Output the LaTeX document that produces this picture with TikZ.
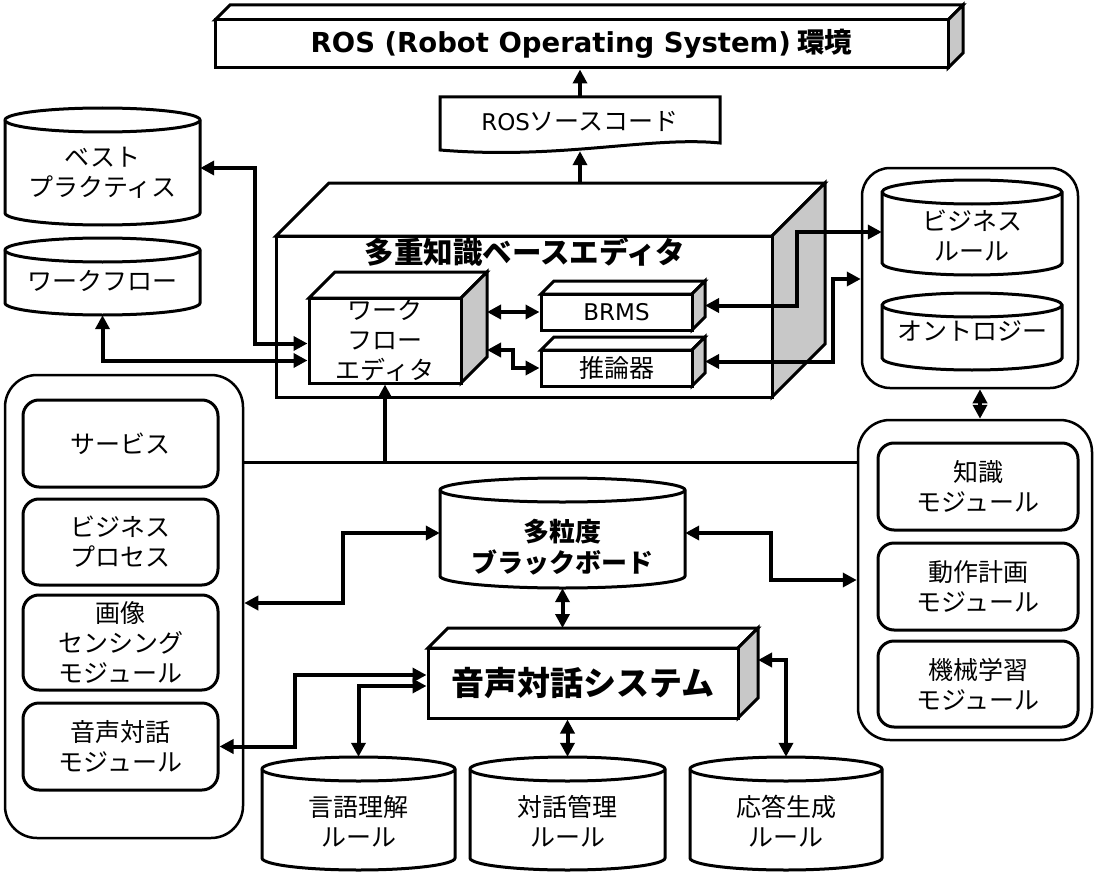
\documentclass[tikz,border=0pt]{standalone}
\usepackage{fontspec}
\setmainfont{Noto Sans CJK JP}
\newfontfamily\latin{DejaVu Sans}
\usepackage{tikz}
\usetikzlibrary{arrows.meta,fit,positioning}
\definecolor{sidegray}{RGB}{200,200,200}

% solid box: [text style] name, left, top, right, bottom, depth, text
\newcommand{\solidbox}[8][]{%
  \filldraw[box] (#3,#4) -- ++(#7,#7) -- (#5+#7,#4+#7) -- (#5,#4) -- cycle;
  \filldraw[box,fill=sidegray] (#5,#4) -- (#5+#7,#4+#7) -- (#5+#7,#6+#7) -- (#5,#6) -- cycle;
  \node[box,fit={(#3,#4) (#5,#6)}] (#2) {};
  \node[txt,#1] (#2-txt) at (#2.center) {#8};
  \coordinate (#2-side) at (#5+#7,{(#4+#6)/2+#7/2});
  \coordinate (#2-top) at ({(#3+#5)/2+#7},#4+#7);
}
% data store: [text style] name, left, top, right, bottom, text shift, text
\newcommand{\dbstore}[8][]{%
  \pgfmathsetmacro\cw{(#5-#3)/2}
  \filldraw[box] (#3,#4-12) -- (#3,#6+12)
    arc[start angle=180,end angle=360,x radius=\cw pt,y radius=12pt]
    -- (#5,#4-12) arc[start angle=0,end angle=180,x radius=\cw pt,y radius=12pt] -- cycle;
  \draw[box] (#3,#4-12) arc[start angle=180,end angle=360,x radius=\cw pt,y radius=12pt];
  \node[inner sep=0pt,fit={(#3,#4) (#5,#6)}] (#2) {};
  \node[txt,#1] (#2-txt) at ([yshift=#7pt]#2.center) {#8};
}
% rounded module: name, left, top, right, bottom, text
\newcommand{\modbox}[6]{%
  \node[module,fit={(#2,#3) (#4,#5)}] (#1) {};
  \node[txt] (#1-txt) at (#1.center) {#6};
}

\begin{document}
\begin{tikzpicture}[x=1pt,y=1pt,>={Triangle[length=14pt,width=14pt]},
  txt/.style={align=center,inner sep=0pt,font=\fontsize{25}{30}\selectfont},
  box/.style={draw,line width=3pt,line join=miter,fill=white,inner sep=0pt},
  group/.style={draw,line width=2.5pt,rounded corners=32pt,inner sep=0pt},
  module/.style={box,rounded corners=16pt},
  link/.style={<->,line width=4pt},
  heading/.style={font=\fontsize{29.5}{34}\selectfont\bfseries}]

    \useasboundingbox (0,0) rectangle (1095,-872);

    % Containers
    \node[group, fit={(5,-375) (243,-838)}] (lgrp) {};
    \node[group, rounded corners=28pt, fit={(862,-168) (1078,-388)}] (rgrp) {};
    \node[group, fit={(858,-420) (1092,-740)}] (mgrp) {};

    % Modules
    \modbox{svc}{23}{-400}{218}{-487}{サービス}
    \modbox{bproc}{23}{-499}{218}{-585}{ビジネス\\プロセス}
    \modbox{img}{23}{-595}{218}{-690}{画像\\センシング\\モジュール}
    \modbox{vmod}{23}{-703}{218}{-790}{音声対話\\モジュール}
    \modbox{know}{878}{-443}{1078}{-530}{知識\\モジュール}
    \modbox{motion}{878}{-543}{1078}{-630}{動作計画\\モジュール}
    \modbox{ml}{878}{-641}{1078}{-727}{機械学習\\モジュール}

    % Stores
    \dbstore{bp}{5}{-108}{200}{-225}{-6}{ベスト\\プラクティス}
    \dbstore{wf}{5}{-238}{200}{-315}{-4}{ワークフロー}
    \dbstore{brule}{882}{-180}{1062}{-275}{-8}{ビジネス\\ルール}
    \dbstore{onto}{882}{-293}{1062}{-370}{0}{オントロジー}
    \dbstore[font=\fontsize{26}{31}\selectfont\bfseries]{bb}{440}{-478}{685}{-588}{-14}{多粒度\\ブラックボード}
    \dbstore{nlu}{262}{-757}{455}{-870}{-8}{言語理解\\ルール}
    \dbstore{dm}{470}{-757}{665}{-870}{-8}{対話管理\\ルール}
    \dbstore{rg}{690}{-757}{882}{-870}{-8}{応答生成\\ルール}

    % Boxes
    \solidbox[font=\fontsize{27.5}{32}\selectfont\bfseries]{ros}{215}{-20}{948}{-68}{15}{{\latin ROS (Robot Operating System)} 環境}
    \filldraw[box] (440,-97) -- (720,-97) -- (720,-143) .. controls (650,-136) and (560,-160) .. (440,-150) -- cycle;
    \node[inner sep=0pt, fit={(440,-97) (720,-146)}] (src) {};
    \node[txt] (src-txt) at (src.center) {{\latin\fontsize{23}{28}\selectfont ROS}ソースコード};
    \solidbox{kbe}{276}{-236}{772}{-397}{53}{}
    \node[heading] (kbe-title) at (525,-252) {多重知識ベースエディタ};
    \solidbox{wfed}{309}{-298}{461}{-383}{26}{ワーク\\フロー\\エディタ}
    \solidbox[font=\latin\fontsize{23}{28}\selectfont]{brms}{541}{-294}{692}{-330}{13}{BRMS}
    \solidbox{inf}{541}{-350}{692}{-386}{13}{推論器}
    \solidbox[font=\fontsize{33}{38}\selectfont\bfseries]{vds}{428}{-648}{738}{-718}{20}{音声対話システム}

    % Connectors
    \draw[link,->] (src.north) -- (src.north |- ros.south);
    \draw[link,->] (src.south |- kbe-top) -- ([yshift=-5pt]src.south);

    \coordinate (bus) at (385,-462);
    \draw[line width=3pt] (lgrp.east |- bus) -- (mgrp.west |- bus);
    \draw[link,->] (bus) -- (wfed.south);

    \draw[link] (bp.east |- 0,-168) -- ++(55,0) |- ([yshift=-3pt]wfed.west);
    \draw[link] (wf.south) |- ([yshift=-20pt]wfed.west);
    \draw[link] (wfed-side |- brms.west) -- (brms.west);
    \draw[link] (wfed-side |- 0,-350) -- ++(26,0) |- (inf.west);
    \draw[link] (brms-side) -- ++(92,0) |- (brule.west |- 0,-232);
    \draw[link] (inf-side) -- ++(128,0) |- (rgrp.west |- 0,-279);
    \draw[link] (rgrp.south -| 980,0) -- (mgrp.north -| 980,0);

    \draw[link] (bb.west) -- ++(-97,0) |- (lgrp.east |- 0,-603);
    \draw[link] (bb.east) -- ++(86,0) |- (mgrp.west |- 0,-580);
    \draw[link] (bb.south) -- (bb.south |- vds-top);
    \draw[link] (vmod.east) -- ++(75,0) |- (vds.west |- 0,-675);
    \draw[link] (vds.west |- 0,-686) -| (nlu.north);
    \draw[link] (vds.south -| dm.north) -- (dm.north);
    \draw[link] (vds-side |- 0,-660) -| (rg.north);
\end{tikzpicture}
\end{document}
